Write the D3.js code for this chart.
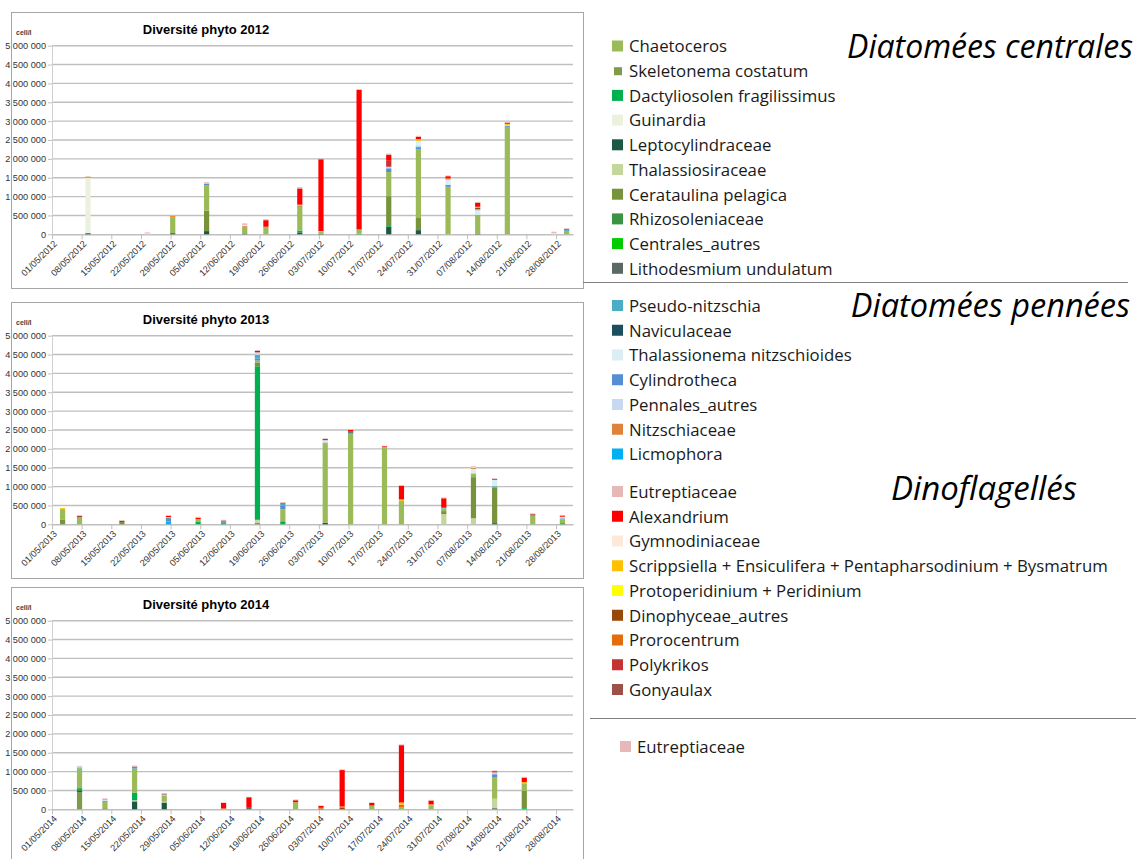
<!DOCTYPE html>
<html>
<head>
<meta charset="utf-8">
<script src="https://cdn.jsdelivr.net/npm/d3@7"></script>
<style>
  body { margin: 0; background: #fff; }
  svg { display: block; font-family: "Liberation Sans", Arial, sans-serif; }
</style>
</head>
<body>
<svg id="chart" width="1136" height="859"></svg>
<script>
const SCRIPP = 'Scrippsiella + Ensiculifera + Pentapharsodinium + Bysmatrum';
const PROTO = 'Protoperidinium + Peridinium';

// stacking order, bottom to top
const speciesOrder = [
  'Skeletonema costatum', 'Leptocylindraceae', 'Lithodesmium undulatum', 'Thalassiosiraceae',
  'Dactyliosolen fragilissimus', 'Cerataulina pelagica', 'Rhizosoleniaceae', 'Centrales_autres',
  'Guinardia', 'Chaetoceros',
  'Licmophora', 'Cylindrotheca', 'Naviculaceae', 'Pseudo-nitzschia', 'Thalassionema nitzschioides',
  'Pennales_autres', 'Nitzschiaceae',
  'Dinophyceae_autres', 'Prorocentrum', SCRIPP, PROTO, 'Polykrikos', 'Gonyaulax', 'Alexandrium',
  'Gymnodiniaceae', 'Eutreptiaceae'
];

const speciesColors = {
  'Chaetoceros': '#9BBB59', 'Skeletonema costatum': '#7F9A48', 'Dactyliosolen fragilissimus': '#00B050',
  'Guinardia': '#EBF1DE', 'Leptocylindraceae': '#1D5846', 'Thalassiosiraceae': '#C3D69B',
  'Cerataulina pelagica': '#77933C', 'Rhizosoleniaceae': '#3A9441', 'Centrales_autres': '#00CC00',
  'Lithodesmium undulatum': '#5A6A63',
  'Pseudo-nitzschia': '#4BACC6', 'Naviculaceae': '#1B4F5E', 'Thalassionema nitzschioides': '#DAEEF3',
  'Cylindrotheca': '#558ED5', 'Pennales_autres': '#C6D9F1', 'Nitzschiaceae': '#E0833A', 'Licmophora': '#00B0F0',
  'Eutreptiaceae': '#E6B9B8', 'Alexandrium': '#FF0000', 'Gymnodiniaceae': '#FDE9D9', [SCRIPP]: '#FFC000',
  [PROTO]: '#FFFF00', 'Dinophyceae_autres': '#984807', 'Prorocentrum': '#E46C0A', 'Polykrikos': '#C53234',
  'Gonyaulax': '#9C5048'
};

// legend groups
const centralesLegend = ['Chaetoceros', 'Skeletonema costatum', 'Dactyliosolen fragilissimus', 'Guinardia',
  'Leptocylindraceae', 'Thalassiosiraceae', 'Cerataulina pelagica', 'Rhizosoleniaceae', 'Centrales_autres',
  'Lithodesmium undulatum'];
const penneesLegend = ['Pseudo-nitzschia', 'Naviculaceae', 'Thalassionema nitzschioides', 'Cylindrotheca',
  'Pennales_autres', 'Nitzschiaceae', 'Licmophora'];
const dinoLegend = ['Eutreptiaceae', 'Alexandrium', 'Gymnodiniaceae', SCRIPP, PROTO, 'Dinophyceae_autres',
  'Prorocentrum', 'Polykrikos', 'Gonyaulax'];
const extraLegend = ['Eutreptiaceae'];

const yTicks = [0, 500000, 1000000, 1500000, 2000000, 2500000, 3000000, 3500000, 4000000, 4500000, 5000000];

// values in thousand cells per litre
const dates2012 = ['09/05/2012', '23/05/2012', '29/05/2012', '06/06/2012', '15/06/2012', '20/06/2012',
  '28/06/2012', '03/07/2012', '12/07/2012', '19/07/2012', '26/07/2012', '02/08/2012', '09/08/2012',
  '16/08/2012', '27/08/2012', '30/08/2012'];
const series2012 = {
  'Chaetoceros':                 [0, 0, 420, 670, 175, 200, 640, 50, 110, 640, 1800, 1260, 500, 2850, 0, 70],
  'Leptocylindraceae':           [30, 0, 30, 85, 0, 0, 50, 15, 0, 200, 110, 0, 20, 0, 0, 0],
  'Lithodesmium undulatum':      [0, 0, 0, 0, 25, 0, 0, 0, 0, 0, 0, 0, 0, 0, 0, 0],
  'Dactyliosolen fragilissimus': [0, 0, 0, 0, 0, 0, 50, 0, 20, 20, 0, 0, 0, 0, 0, 0],
  'Cerataulina pelagica':        [0, 0, 0, 540, 0, 0, 0, 0, 0, 790, 340, 0, 0, 0, 0, 0],
  'Guinardia':                   [1470, 0, 0, 0, 0, 0, 0, 0, 0, 0, 0, 0, 0, 0, 0, 0],
  'Pseudo-nitzschia':            [0, 0, 0, 0, 0, 0, 0, 0, 0, 0, 40, 0, 0, 0, 0, 30],
  'Cylindrotheca':               [0, 0, 0, 45, 0, 0, 0, 0, 0, 100, 40, 50, 0, 30, 0, 20],
  'Thalassionema nitzschioides': [0, 0, 0, 0, 0, 0, 0, 0, 0, 0, 150, 130, 100, 0, 0, 0],
  'Pennales_autres':             [0, 0, 0, 0, 0, 0, 0, 0, 0, 40, 0, 0, 40, 20, 0, 0],
  'Nitzschiaceae':               [20, 0, 0, 0, 25, 0, 0, 0, 0, 0, 0, 0, 0, 0, 0, 0],
  'Dinophyceae_autres':          [0, 0, 0, 0, 0, 0, 15, 0, 0, 0, 0, 0, 50, 0, 0, 0],
  'Prorocentrum':                [0, 0, 30, 0, 0, 0, 0, 0, 0, 0, 0, 0, 0, 0, 0, 0],
  [SCRIPP]:                      [10, 0, 20, 0, 0, 0, 30, 20, 0, 0, 45, 40, 20, 30, 0, 0],
  'Polykrikos':                  [0, 0, 0, 0, 0, 0, 0, 0, 0, 160, 0, 0, 0, 0, 0, 20],
  'Alexandrium':                 [0, 0, 0, 0, 0, 175, 430, 1905, 3700, 160, 60, 60, 100, 30, 0, 0],
  'Gymnodiniaceae':              [0, 20, 0, 0, 25, 0, 0, 0, 0, 0, 0, 0, 0, 0, 30, 0],
  'Eutreptiaceae':               [10, 30, 0, 40, 40, 25, 35, 20, 20, 30, 25, 20, 30, 20, 40, 20]
};

const dates2013 = ['03/05/2013', '07/05/2013', '17/05/2013', '28/05/2013', '04/06/2013', '10/06/2013',
  '18/06/2013', '24/06/2013', '04/07/2013', '10/07/2013', '18/07/2013', '22/07/2013', '01/08/2013',
  '08/08/2013', '13/08/2013', '22/08/2013', '29/08/2013'];
const series2013 = {
  'Skeletonema costatum':        [0, 0, 0, 0, 0, 0, 40, 0, 0, 0, 0, 0, 0, 0, 0, 0, 0],
  'Leptocylindraceae':           [0, 0, 0, 0, 0, 0, 0, 0, 40, 0, 0, 0, 0, 0, 30, 0, 0],
  'Thalassiosiraceae':           [0, 0, 0, 0, 0, 0, 80, 0, 0, 0, 0, 0, 270, 160, 0, 0, 0],
  'Dactyliosolen fragilissimus': [0, 0, 0, 0, 60, 30, 4070, 80, 0, 0, 0, 0, 0, 0, 0, 0, 30],
  'Cerataulina pelagica':        [130, 0, 60, 0, 0, 0, 90, 0, 0, 0, 0, 0, 80, 1090, 950, 0, 0],
  'Chaetoceros':                 [250, 190, 0, 0, 80, 0, 60, 320, 2100, 2400, 2030, 600, 70, 100, 0, 220, 100],
  'Licmophora':                  [0, 0, 0, 80, 0, 0, 0, 0, 0, 0, 0, 0, 0, 0, 0, 0, 0],
  'Cylindrotheca':               [0, 0, 0, 50, 0, 0, 50, 90, 0, 30, 0, 0, 0, 0, 0, 0, 0],
  'Naviculaceae':                [0, 0, 0, 30, 0, 0, 0, 0, 0, 30, 0, 0, 0, 0, 0, 0, 0],
  'Pseudo-nitzschia':            [0, 0, 0, 0, 0, 50, 100, 60, 30, 0, 20, 20, 20, 0, 30, 30, 30],
  'Thalassionema nitzschioides': [0, 0, 0, 0, 0, 0, 0, 0, 60, 0, 0, 0, 0, 120, 170, 0, 40],
  'Pennales_autres':             [0, 0, 0, 30, 0, 0, 70, 0, 0, 0, 0, 0, 0, 0, 0, 0, 0],
  'Nitzschiaceae':               [20, 0, 0, 0, 0, 0, 0, 0, 0, 0, 0, 0, 0, 30, 0, 0, 0],
  'Dinophyceae_autres':          [0, 0, 30, 0, 0, 0, 0, 0, 0, 0, 0, 0, 0, 0, 0, 0, 0],
  [SCRIPP]:                      [30, 0, 0, 0, 0, 0, 0, 0, 0, 0, 0, 40, 0, 0, 0, 0, 0],
  'Polykrikos':                  [0, 30, 0, 0, 0, 0, 0, 0, 0, 0, 0, 0, 0, 0, 0, 20, 0],
  'Alexandrium':                 [0, 0, 0, 30, 30, 20, 40, 20, 30, 40, 20, 360, 250, 0, 20, 0, 30],
  'Gymnodiniaceae':              [0, 0, 0, 0, 0, 0, 0, 0, 0, 0, 0, 0, 0, 20, 0, 0, 0],
  'Eutreptiaceae':               [0, 20, 20, 20, 30, 20, 20, 20, 20, 20, 10, 20, 20, 20, 20, 20, 20]
};

const dates2014 = ['07/05/2014', '13/05/2014', '20/05/2014', '27/05/2014', '10/06/2014', '16/06/2014',
  '27/06/2014', '03/07/2014', '08/07/2014', '15/07/2014', '22/07/2014', '29/07/2014', '13/08/2014',
  '20/08/2014'];
const series2014 = {
  'Skeletonema costatum':        [460, 30, 0, 0, 0, 0, 0, 0, 0, 0, 0, 0, 0, 0],
  'Leptocylindraceae':           [40, 0, 210, 180, 0, 0, 0, 0, 0, 0, 0, 0, 0, 0],
  'Lithodesmium undulatum':      [0, 0, 0, 0, 0, 60, 0, 0, 0, 0, 0, 0, 30, 0],
  'Thalassiosiraceae':           [0, 0, 30, 20, 0, 0, 0, 0, 0, 0, 0, 0, 250, 0],
  'Dactyliosolen fragilissimus': [60, 0, 200, 0, 0, 0, 0, 0, 0, 0, 0, 0, 0, 30],
  'Cerataulina pelagica':        [0, 0, 0, 0, 0, 0, 0, 0, 0, 0, 0, 0, 0, 460],
  'Chaetoceros':                 [520, 170, 640, 170, 20, 0, 190, 0, 0, 100, 60, 110, 560, 200],
  'Cylindrotheca':               [0, 30, 30, 0, 0, 0, 0, 0, 0, 0, 0, 0, 90, 0],
  'Naviculaceae':                [0, 0, 20, 0, 0, 0, 0, 0, 0, 0, 0, 0, 0, 0],
  'Pseudo-nitzschia':            [30, 0, 0, 0, 0, 0, 0, 0, 0, 0, 0, 0, 0, 0],
  'Thalassionema nitzschioides': [0, 30, 0, 0, 0, 0, 0, 0, 0, 0, 0, 0, 0, 0],
  'Pennales_autres':             [20, 0, 0, 20, 0, 0, 0, 0, 0, 0, 0, 0, 50, 0],
  'Dinophyceae_autres':          [0, 0, 0, 0, 0, 0, 0, 20, 40, 0, 0, 0, 0, 0],
  'Prorocentrum':                [0, 0, 0, 0, 0, 0, 0, 20, 40, 0, 60, 0, 0, 0],
  [SCRIPP]:                      [0, 0, 0, 0, 0, 0, 0, 0, 0, 0, 60, 20, 0, 30],
  'Polykrikos':                  [0, 10, 0, 0, 0, 0, 0, 0, 0, 0, 0, 0, 0, 0],
  'Gonyaulax':                   [0, 0, 0, 20, 0, 0, 0, 0, 0, 0, 0, 0, 0, 0],
  'Alexandrium':                 [0, 0, 0, 0, 150, 260, 50, 50, 960, 70, 1520, 100, 30, 120],
  'Eutreptiaceae':               [20, 20, 30, 20, 10, 10, 20, 10, 20, 10, 20, 20, 20, 20]
};

const svg = d3.select('#chart');
const parseDay = d3.timeParse('%d/%m/%Y');
const spaceFormat = d => d3.format(',')(d).replace(/,/g, ' ');

function drawYear(top, year, dates, series) {
  const g = svg.append('g').attr('class', 'year-' + year);
  const start = new Date(year, 4, 1);
  const x = d3.scaleTime()
    .domain([start, new Date(year, 8, 1)])
    .range([52, 573]);
  const y = d3.scaleLinear()
    .domain([0, 5000000])
    .range([top + 222.3, top + 33.7]);
  const halfDay = (x(d3.timeDay.offset(start, 1)) - x(start)) / 2;

  // frame
  g.append('rect')
    .attr('x', 11.5).attr('y', top + 0.5)
    .attr('width', 572).attr('height', 276)
    .attr('fill', 'none').attr('stroke', '#A6A6A6');

  g.append('text')
    .attr('x', 206).attr('y', top + 21.5)
    .attr('text-anchor', 'middle')
    .attr('font-size', 13).attr('font-weight', 'bold')
    .attr('fill', '#000')
    .text('Diversité phyto ' + year);

  g.append('text')
    .attr('x', 16).attr('y', top + 23)
    .attr('font-size', 7).attr('font-weight', 'bold')
    .attr('fill', '#404040')
    .text('cell/l');

  // gridlines
  g.append('g')
    .selectAll('line')
    .data(yTicks.filter(d => d > 0))
    .enter()
    .append('line')
    .attr('x1', 52).attr('x2', 573)
    .attr('y1', d => y(d)).attr('y2', d => y(d))
    .attr('stroke', '#BFBFBF').attr('stroke-width', 1.4);

  const yAxis = g.append('g')
    .attr('transform', 'translate(52,0)')
    .call(d3.axisLeft(y).tickValues(yTicks).tickSize(4).tickSizeOuter(0).tickFormat(spaceFormat));
  yAxis.select('.domain').attr('stroke', '#D0D0D0');
  yAxis.selectAll('.tick line').attr('stroke', '#BFBFBF');
  yAxis.selectAll('.tick text')
    .attr('x', -6)
    .attr('font-family', '"Liberation Sans", Arial, sans-serif')
    .attr('font-size', 9.2).attr('fill', '#333');

  const weekTicks = d3.range(18).map(i => d3.timeDay.offset(start, 7 * i));
  const xAxis = g.append('g')
    .attr('transform', `translate(0,${y(0)})`)
    .call(d3.axisBottom(x).tickValues(weekTicks).tickSize(5).tickSizeOuter(0)
      .tickFormat(d3.timeFormat('%d/%m/%Y')));
  xAxis.select('.domain').attr('stroke', '#BFBFBF').attr('stroke-width', 1.4);
  xAxis.selectAll('.tick line').attr('stroke', '#BFBFBF');
  xAxis.selectAll('.tick text')
    .attr('font-family', '"Liberation Sans", Arial, sans-serif')
    .attr('font-size', 9.2).attr('fill', '#333')
    .attr('text-anchor', 'end')
    .attr('dy', 0)
    .attr('y', 0)
    .attr('transform', 'translate(5,10) rotate(-45)');

  // stacked bars
  const rows = dates.map((d, i) => {
    const row = { date: parseDay(d) };
    speciesOrder.forEach(s => { row[s] = series[s] ? series[s][i] * 1000 : 0; });
    return row;
  });
  const layers = d3.stack().keys(speciesOrder)(rows);

  g.append('g')
    .selectAll('g')
    .data(layers)
    .enter()
    .append('g')
    .attr('fill', d => speciesColors[d.key])
    .selectAll('rect')
    .data(d => d.filter(p => p[1] > p[0]))
    .enter()
    .append('rect')
    .attr('x', d => x(d.data.date) + halfDay - 2.6)
    .attr('width', 5.2)
    .attr('y', d => y(d[1]))
    .attr('height', d => y(d[0]) - y(d[1]));
}

drawYear(12, 2012, dates2012, series2012);
drawYear(302, 2013, dates2013, series2013);
drawYear(587, 2014, dates2014, series2014);

// legend
function drawLegend(names, yStart, step, sqX, textX) {
  const lg = svg.append('g')
    .selectAll('g')
    .data(names)
    .enter()
    .append('g')
    .attr('transform', (d, i) => `translate(0,${yStart + i * step})`);
  lg.append('rect')
    .attr('x', d => d === 'Skeletonema costatum' ? sqX + 2 : sqX)
    .attr('y', d => d === 'Skeletonema costatum' ? -4 : -6)
    .attr('width', d => d === 'Skeletonema costatum' ? 8 : 11)
    .attr('height', d => d === 'Skeletonema costatum' ? 8 : 11)
    .attr('fill', d => speciesColors[d]);
  lg.append('text')
    .attr('x', textX)
    .attr('y', 0)
    .attr('dy', '0.35em')
    .attr('font-family', '"Open Sans", sans-serif')
    .attr('font-size', 16.8)
    .attr('fill', '#1A1A1A')
    .text(d => d);
}

drawLegend(centralesLegend, 46.5, 24.7, 612, 629);
drawLegend(penneesLegend, 306, 24.75, 612, 629);
drawLegend(dinoLegend, 492, 24.75, 612, 629);
drawLegend(extraLegend, 747, 24.75, 620, 637);

const headers = [
  { text: 'Diatomées centrales', x: 1133, y: 58, size: 32 },
  { text: 'Diatomées pennées', x: 1130, y: 317, size: 32.5 },
  { text: 'Dinoflagellés', x: 1077, y: 500, size: 33 }
];
svg.append('g')
  .selectAll('text')
  .data(headers)
  .enter()
  .append('text')
  .attr('x', d => d.x).attr('y', d => d.y)
  .attr('text-anchor', 'end')
  .attr('font-family', '"Open Sans", sans-serif')
  .attr('font-style', 'italic')
  .attr('font-size', d => d.size)
  .attr('fill', '#000')
  .text(d => d.text);

// separators
svg.append('line').attr('x1', 583).attr('x2', 1128).attr('y1', 282.5).attr('y2', 282.5)
  .attr('stroke', '#808080').attr('stroke-width', 1.2);
svg.append('line').attr('x1', 590).attr('x2', 1136).attr('y1', 718.5).attr('y2', 718.5)
  .attr('stroke', '#808080').attr('stroke-width', 1.2);
</script>
</body>
</html>
